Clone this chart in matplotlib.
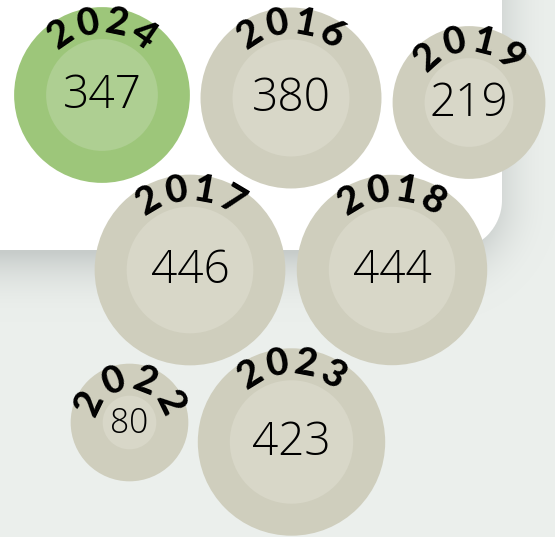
import numpy as np
import matplotlib
matplotlib.use("Agg")
import matplotlib.pyplot as plt
from matplotlib.patches import Circle
from matplotlib.font_manager import FontProperties

# ---- data ----
years = ["2024", "2016", "2019", "2017", "2018", "2022", "2023"]
values = [347, 380, 219, 446, 444, 80, 423]
highlight = "2024"

# ---- layout (packed centres, pixel coords) ----
centers_x = [102, 291, 469, 190, 392, 129.5, 291.5]
centers_y = [95, 98, 102.5, 270, 270, 422.5, 442]

W, H = 555, 537
fig = plt.figure(figsize=(W / 100, H / 100), dpi=100)
ax = fig.add_axes([0, 0, 1, 1])
ax.set_xlim(0, W)
ax.set_ylim(H, 0)
ax.set_aspect("equal")
ax.axis("off")

# ---- background with white panel and soft shadow ----
yy, xx = np.mgrid[0:H, 0:W] + 0.5


def rrect_sdf(x, y, right, bottom, rad):
    qx = x - (right - rad)
    qy = y - (bottom - rad)
    outside = np.hypot(np.maximum(qx, 0), np.maximum(qy, 0))
    inside = np.minimum(np.maximum(qx, qy), 0)
    return outside + inside - rad


bg = np.array([235, 239, 236], float)
img = np.ones((H, W, 3)) * bg
ds = rrect_sdf(xx, yy, 488, 252, 50)
a = np.clip(1 - np.maximum(ds, 0) / 70.0, 0, 1) ** 2.2
img -= a[..., None] * np.array([36, 35, 34])
dp = rrect_sdf(xx, yy, 502, 250, 50)
alpha = np.clip(0.5 - dp, 0, 1)
img = img * (1 - alpha[..., None]) + 255 * alpha[..., None]
ax.imshow(img.astype(np.uint8), extent=(0, W, H, 0), zorder=0, interpolation="bilinear")

# ---- fonts ----
val_fp_kw = dict(family="Open Sans", weight=300)
year_fp = FontProperties(family="Lato", weight="black", size=27.5)

renderer = fig.canvas.get_renderer()

for yr, v, cx, cy in zip(years, values, centers_x, centers_y):
    r_in = 3.0 * np.sqrt(v)
    r_out = r_in + 32
    if yr == highlight:
        c_out, c_in = "#9DC67A", "#AECF92"
    else:
        c_out, c_in = "#CFCEBD", "#D8D7C8"
    ax.add_patch(Circle((cx, cy), r_out, facecolor=c_out, edgecolor="none", zorder=2))
    ax.add_patch(Circle((cx, cy), r_in, facecolor=c_in, edgecolor="none", zorder=3))

    fpx = min(46, 1.25 * r_in)
    ax.text(cx, cy + 1, str(v), ha="center", va="center", fontsize=fpx * 0.72,
            color="black", zorder=5, **val_fp_kw)

    # curved year label
    r_base = r_out - 25
    r_c = r_out - 15
    widths = []
    for ch in yr:
        w, h, d = renderer.get_text_width_height_descent(ch, year_fp, ismath=False)
        widths.append(w + 3.0)
    total = sum(widths)
    pos = -total / 2
    for ch, w in zip(yr, widths):
        s = pos + w / 2
        pos += w
        th = s / r_base
        x = cx + r_c * np.sin(th)
        y = cy - r_c * np.cos(th)
        ax.text(x, y, ch, ha="center", va="center", rotation=-np.degrees(th),
                rotation_mode="anchor", fontproperties=year_fp, color="black", zorder=6)

fig.savefig("out.png", dpi=100)
